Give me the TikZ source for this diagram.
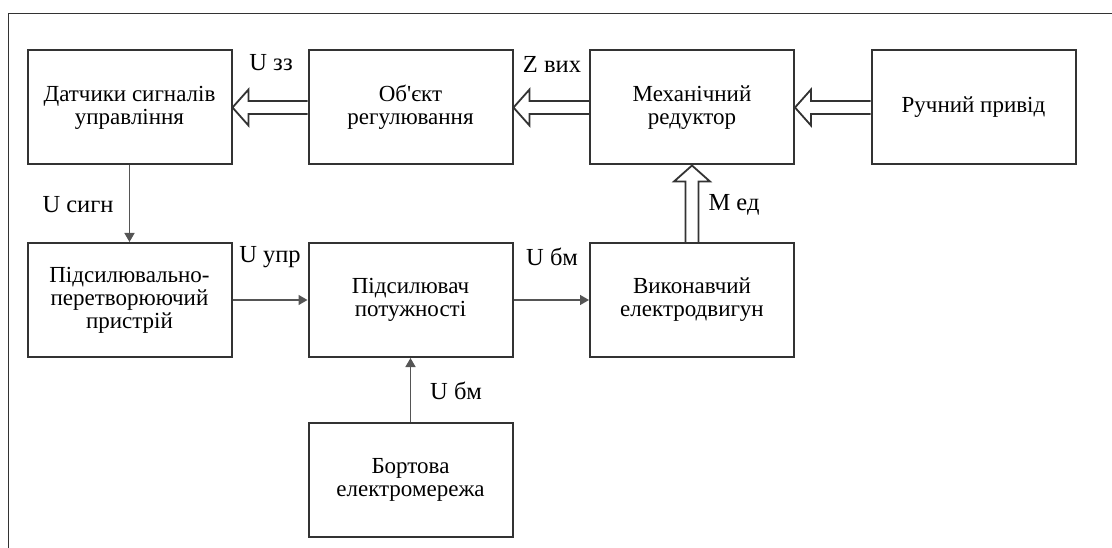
\documentclass[tikz,border=0pt]{standalone}
\usepackage{fontspec}
\setmainfont{Liberation Serif}
\usepackage{tikz}
\usetikzlibrary{arrows.meta, calc, positioning}

\definecolor{boxgray}{HTML}{333333}
\definecolor{wiregray}{HTML}{555555}

% hollow block arrow from #1 to #2
\newcommand{\fatarrow}[2]{%
	\draw[fat] let \p1=(#1), \p2=(#2), \n1={atan2(\y2-\y1,\x2-\x1)}, \n2={veclen(\x2-\x1,\y2-\y1)} in
		[shift={(\p2)}, rotate=\n1] (-\n2,6.5pt) -- (-16pt,6.5pt) -- (-16pt,18pt) -- (0pt,0pt)
		-- (-16pt,-18pt) -- (-16pt,-6.5pt) -- (-\n2,-6.5pt);}

\begin{document}
\begin{tikzpicture}[->,>={Triangle[length=9pt,width=10pt]},x=1pt,y=-1pt,draw=wiregray,line width=1.4pt]
	\tikzset{blok/.style={draw=boxgray, line width=2pt, minimum width=204pt, minimum height=114pt, inner sep=0pt, align=center, font=\fontsize{23}{23}\selectfont},
		lbl/.style={inner sep=0pt, font=\fontsize{24.5}{25}\selectfont},
		fat/.style={-, draw=boxgray, line width=1.8pt, line join=miter},
		frame/.style={-, draw=boxgray, line width=0.9pt}}
	\useasboundingbox (0,0) rectangle (1112,548);
	\draw[frame] (8,548) -- (8,13) -- (1112,13);
	\node[blok] (dat) at (129.5,107.5) {Датчики сигналів\\управління};
	\node[blok] (obj) at (410.5,107.5) {Об\textquotesingle єкт\\регулювання};
	\node[blok] (red) at (692,107.5) {Механічний\\редуктор};
	\node[blok] (ruch) at (973.5,107.5) {Ручний привід};
	\node[blok] (ppp) at (129.5,300) {Підсилювально-\\перетворюючий\\пристрій};
	\node[blok] (pidp) at (410.5,300) {Підсилювач\\потужності};
	\node[blok] (ed) at (692,300) {Виконавчий\\електродвигун};
	\node[blok] (bort) at (410.5,480) {Бортова\\електромережа};
	\node[lbl] (uzz) at (271,63) {U зз};
	\node[lbl] (zvyh) at (552,64) {Z вих};
	\node[lbl] (usygn) at (78,205) {U сигн};
	\node[lbl] (med) at (734,205) {M ед};
	\node[lbl] (uupr) at (270,257) {U упр};
	\node[lbl] (ubm) at (552,257) {U бм};
	\node[lbl] (ubm2) at (456,391) {U бм};
	\path
		(dat) edge (ppp)
		(ppp) edge (pidp)
		(pidp) edge (ed)
		(bort) edge (pidp);
	\fatarrow{obj.west}{dat.east}
	\fatarrow{red.west}{obj.east}
	\fatarrow{ruch.west}{red.east}
	\fatarrow{ed.north}{red.south}
\end{tikzpicture}
\end{document}
